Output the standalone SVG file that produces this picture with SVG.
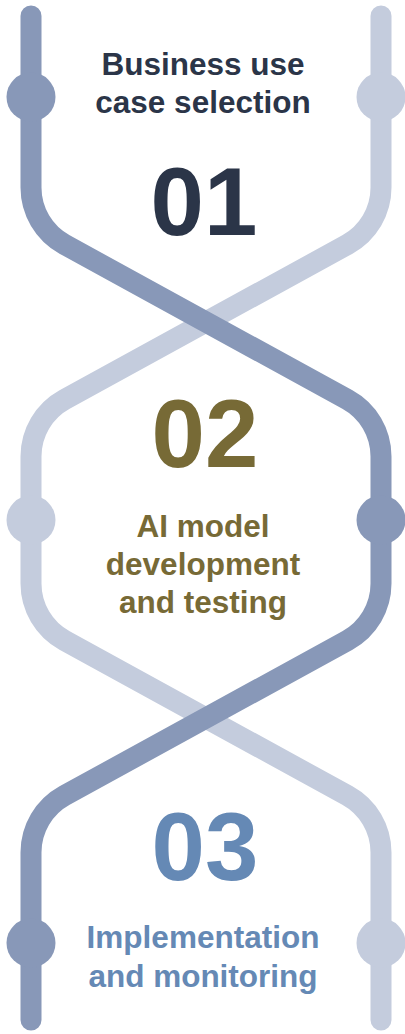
<svg xmlns="http://www.w3.org/2000/svg" width="405" height="1034" viewBox="0 0 405 1034">
<style>
.ln{fill:none;stroke-width:21;stroke-linecap:round}
.dark{stroke:#8898b8}
.light{stroke:#c4ccdd}
.dk{fill:#8898b8}
.lt{fill:#c4ccdd}
.num{font-family:"Liberation Sans",Arial,sans-serif;font-weight:bold;font-size:96px;text-anchor:middle}
.lbl{font-family:"Liberation Sans",Arial,sans-serif;font-weight:bold;font-size:31.5px;text-anchor:middle}
</style>
<rect width="405" height="1034" fill="#ffffff"/>
<g id="connectors">
<path class="ln light" d="M381,16 V187.6 A65,65 0 0 1 347.4,244.5 L64.6,399.5 A65,65 0 0 0 31,456.4 V583.6 A65,65 0 0 0 64.6,640.5 L347.4,795.5 A65,65 0 0 1 381,852.4 V1020"/>
<path class="ln dark" d="M31,16 V187.6 A65,65 0 0 0 64.6,244.5 L347.4,399.5 A65,65 0 0 1 381,456.4 V583.6 A65,65 0 0 1 347.4,640.5 L64.6,795.5 A65,65 0 0 0 31,852.4 V1020"/>
<circle class="dk" cx="31" cy="97" r="24.5"/>
<circle class="lt" cx="381" cy="97" r="24.5"/>
<circle class="lt" cx="31" cy="520" r="24.5"/>
<circle class="dk" cx="381" cy="520" r="24.5"/>
<circle class="dk" cx="31" cy="943" r="24.5"/>
<circle class="lt" cx="381" cy="943" r="24.5"/>
</g>
<g id="step1" fill="#2b3548">
<text class="lbl" x="203" y="75">Business use</text>
<text class="lbl" x="203" y="113">case selection</text>
<text class="num" x="204" y="235">01</text>
</g>
<g id="step2" fill="#776a36">
<text class="num" x="205" y="467">02</text>
<text class="lbl" x="203" y="537">AI model</text>
<text class="lbl" x="203" y="575">development</text>
<text class="lbl" x="203" y="613">and testing</text>
</g>
<g id="step3" fill="#6589b5">
<text class="num" x="205" y="880">03</text>
<text class="lbl" x="203" y="948">Implementation</text>
<text class="lbl" x="203" y="987">and monitoring</text>
</g>
</svg>
